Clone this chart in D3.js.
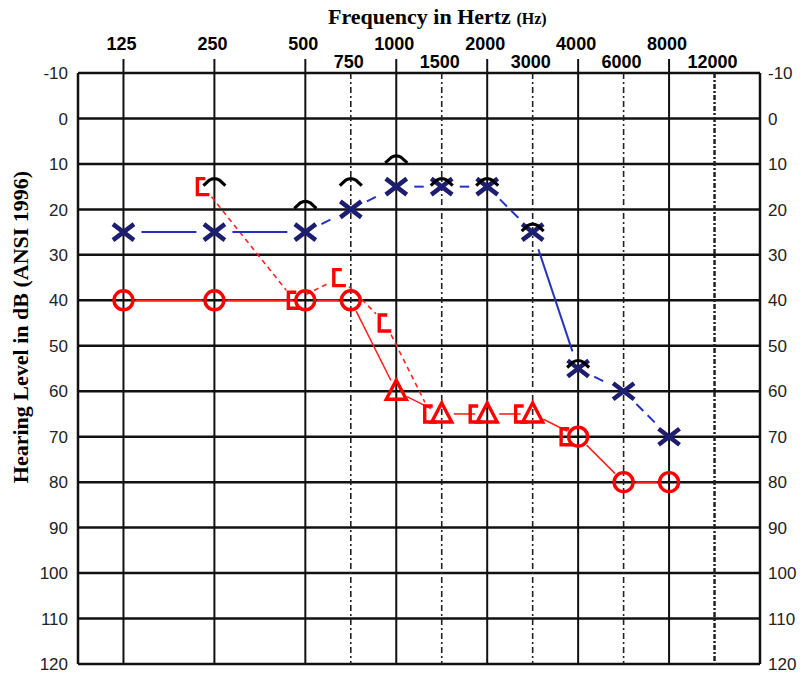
<!DOCTYPE html>
<html>
<head>
<meta charset="utf-8">
<script src="https://cdn.jsdelivr.net/npm/d3@7"></script>
<style>
  body { margin: 0; background: #fff; }
</style>
</head>
<body>
<div id="chart"></div>
<script>
// audiogram data
const octaveFreqs = [125, 250, 500, 1000, 2000, 4000, 8000];
const interFreqs = [750, 1500, 3000, 6000, 12000];
const dbTicks = [-10, 0, 10, 20, 30, 40, 50, 60, 70, 80, 90, 100, 110, 120];

// right ear air conduction (O unmasked, triangle masked)
const rightAirFreq = [125, 250, 500, 750, 1000, 1500, 2000, 3000, 4000, 6000, 8000];
const rightAirDb = [40, 40, 40, 40, 60, 65, 65, 65, 70, 80, 80];
const rightAirMasked = [false, false, false, false, true, true, true, true, false, false, false];

// right ear masked bone conduction "["
const rightBoneFreq = [250, 500, 750, 1000, 1500, 2000, 3000, 4000];
const rightBoneDb = [15, 40, 35, 45, 65, 65, 65, 70];

// left ear air conduction X
const leftAirFreq = [125, 250, 500, 750, 1000, 1500, 2000, 3000, 4000, 6000, 8000];
const leftAirDb = [25, 25, 25, 20, 15, 15, 15, 25, 55, 60, 70];

// unmasked bone conduction "^"
const leftBoneFreq = [250, 500, 750, 1000, 1500, 2000, 3000, 4000];
const leftBoneDb = [15, 20, 15, 10, 15, 15, 25, 55];

const W = 800, H = 678;
const svg = d3.select("#chart").append("svg")
    .attr("width", W).attr("height", H)
    .style("font-family", "Liberation Sans, Arial, sans-serif");

// octave position: half-octave frequencies sit midway between octaves
function octave(f) {
    const o = Math.log2(f / 125);
    return Math.abs(o - Math.round(o)) < 1e-9 ? Math.round(o) : Math.floor(o) + 0.5;
}

const x = d3.scaleLinear().domain([-0.5, 7]).range([78, 760]);
const y = d3.scaleLinear().domain([-10, 120]).range([73, 664]);
const fx = f => x(octave(f));

// grid: horizontal dB lines
svg.append("g").selectAll("line")
    .data(dbTicks)
    .enter().append("line")
    .attr("x1", x(-0.5)).attr("x2", x(7))
    .attr("y1", d => y(d)).attr("y2", d => y(d))
    .attr("stroke", "#111").attr("stroke-width", 2.5);

// frame sides
svg.append("g").selectAll("line")
    .data([-0.5, 7])
    .enter().append("line")
    .attr("x1", d => x(d)).attr("x2", d => x(d))
    .attr("y1", y(-10)).attr("y2", y(120))
    .attr("stroke", "#111").attr("stroke-width", 2.5);

// octave lines (extend above the frame)
svg.append("g").selectAll("line")
    .data(octaveFreqs)
    .enter().append("line")
    .attr("x1", d => fx(d)).attr("x2", d => fx(d))
    .attr("y1", 59).attr("y2", y(120))
    .attr("stroke", "#111").attr("stroke-width", 2);

// half-octave lines, dashed
svg.append("g").selectAll("line")
    .data(interFreqs)
    .enter().append("line")
    .attr("x1", d => fx(d)).attr("x2", d => fx(d))
    .attr("y1", y(-10)).attr("y2", y(120))
    .attr("stroke", "#222")
    .attr("stroke-width", d => d === 12000 ? 2.5 : 1.6)
    .attr("stroke-dasharray", d => d === 12000 ? "5,2,2,2" : "6,3,2,3");

// frequency labels
svg.append("g").selectAll("text")
    .data(octaveFreqs)
    .enter().append("text")
    .attr("x", d => fx(d) - 2).attr("y", 50)
    .attr("text-anchor", "middle")
    .style("font-size", "18px").style("font-weight", "bold")
    .text(d => d);

svg.append("g").selectAll("text")
    .data(interFreqs)
    .enter().append("text")
    .attr("x", d => fx(d) - 2).attr("y", 68)
    .attr("text-anchor", "middle")
    .style("font-size", "18px").style("font-weight", "bold")
    .text(d => d);

// dB labels both sides
svg.append("g").selectAll("text")
    .data(dbTicks)
    .enter().append("text")
    .attr("x", 68).attr("y", d => y(d))
    .attr("dy", "0.36em")
    .attr("text-anchor", "end")
    .style("font-size", "17px").attr("fill", "#222")
    .text(d => d);

svg.append("g").selectAll("text")
    .data(dbTicks)
    .enter().append("text")
    .attr("x", 768).attr("y", d => y(d))
    .attr("dy", "0.36em")
    .style("font-size", "17px").attr("fill", "#222")
    .text(d => d);

// titles
const title = svg.append("text")
    .attr("x", 328).attr("y", 24)
    .style("font-family", "Liberation Serif, Times New Roman, serif")
    .style("font-weight", "bold").style("font-size", "22px");
title.append("tspan").text("Frequency in Hertz ");
title.append("tspan").style("font-size", "16px").text("(Hz)");

svg.append("text")
    .attr("transform", `translate(28,${(162 + 492) / 2}) rotate(-90)`)
    .attr("text-anchor", "middle")
    .style("font-family", "Liberation Serif, Times New Roman, serif")
    .style("font-weight", "bold").style("font-size", "22px")
    .text("Hearing Level in dB (ANSI 1996)");

// helper: segments between consecutive points with gaps around the symbols
function segments(pts, gap) {
    const segs = [];
    for (let i = 0; i < pts.length - 1; i++) {
        const [x1, y1] = pts[i], [x2, y2] = pts[i + 1];
        const len = Math.hypot(x2 - x1, y2 - y1);
        const ux = (x2 - x1) / len, uy = (y2 - y1) / len;
        segs.push({ i: i, x1: x1 + ux * gap, y1: y1 + uy * gap, x2: x2 - ux * gap, y2: y2 - uy * gap });
    }
    return segs;
}

// right ear bone line (dashed)
const rbPts = rightBoneFreq.map((f, i) => [fx(f) - 11, y(rightBoneDb[i])]);
svg.append("g").selectAll("line")
    .data(segments(rbPts, 13).slice(0, 4))
    .enter().append("line")
    .attr("x1", d => d.x1).attr("y1", d => d.y1)
    .attr("x2", d => d.x2).attr("y2", d => d.y2)
    .attr("stroke", "#f22").attr("stroke-width", 1.6)
    .attr("stroke-dasharray", "5,4");

// right ear air line
const raPts = rightAirFreq.map((f, i) => [fx(f), y(rightAirDb[i])]);
svg.append("g").selectAll("line")
    .data(segments(raPts, 12))
    .enter().append("line")
    .attr("x1", d => d.x1).attr("y1", d => d.y1)
    .attr("x2", d => d.x2).attr("y2", d => d.y2)
    .attr("stroke", "#f22").attr("stroke-width", 1.6);

// left ear air line: solid at low end and 3000-4000, dashed elsewhere
const solidIdx = [0, 1, 7];
const laPts = leftAirFreq.map((f, i) => [fx(f), y(leftAirDb[i])]);
svg.append("g").selectAll("line")
    .data(segments(laPts, 18))
    .enter().append("line")
    .attr("x1", d => d.x1).attr("y1", d => d.y1)
    .attr("x2", d => d.x2).attr("y2", d => d.y2)
    .attr("stroke", "#2233c0").attr("stroke-width", 2)
    .attr("stroke-dasharray", d => solidIdx.includes(d.i) ? null : "10,6");

// right bone "[" markers
svg.append("g").selectAll("path")
    .data(rightBoneFreq.map((f, i) => ({ f: f, db: rightBoneDb[i] })))
    .enter().append("path")
    .attr("d", d => {
        const cx = fx(d.f), cy = y(d.db);
        return `M${cx - 9},${cy - 8} H${cx - 17} V${cy + 8} H${cx - 5}`;
    })
    .attr("fill", "none").attr("stroke", "#f00").attr("stroke-width", 3.4);

// right air markers
const raData = rightAirFreq.map((f, i) => ({ f: f, db: rightAirDb[i], masked: rightAirMasked[i] }));
svg.append("g").selectAll("circle")
    .data(raData.filter(d => !d.masked))
    .enter().append("circle")
    .attr("cx", d => fx(d.f)).attr("cy", d => y(d.db))
    .attr("r", 9.5)
    .attr("fill", "none").attr("stroke", "#f00").attr("stroke-width", 3.4);

svg.append("g").selectAll("path")
    .data(raData.filter(d => d.masked))
    .enter().append("path")
    .attr("d", d => {
        const cx = fx(d.f), cy = y(d.db);
        return `M${cx},${cy - 11} L${cx + 10},${cy + 8} L${cx - 10},${cy + 8} Z`;
    })
    .attr("fill", "none").attr("stroke", "#f00").attr("stroke-width", 3.4)
    .attr("stroke-linejoin", "miter");

// left air X markers
svg.append("g").selectAll("path")
    .data(leftAirFreq.map((f, i) => ({ f: f, db: leftAirDb[i] })))
    .enter().append("path")
    .attr("d", d => {
        const cx = fx(d.f), cy = y(d.db);
        return `M${cx - 10.5},${cy - 8} L${cx + 10.5},${cy + 8} M${cx + 10.5},${cy - 8} L${cx - 10.5},${cy + 8}`;
    })
    .attr("fill", "none").attr("stroke", "#1e1e70").attr("stroke-width", 4.5);

// bone "^" markers
svg.append("g").selectAll("path")
    .data(leftBoneFreq.map((f, i) => ({ f: f, db: leftBoneDb[i] })))
    .enter().append("path")
    .attr("d", d => {
        const cx = fx(d.f), cy = y(d.db);
        return `M${cx - 11},${cy - 1} L${cx - 5},${cy - 6.5} Q${cx},${cy - 9.5} ${cx + 5},${cy - 6.5} L${cx + 11},${cy - 1}`;
    })
    .attr("fill", "none").attr("stroke", "#000").attr("stroke-width", 3.2);
</script>
</body>
</html>
